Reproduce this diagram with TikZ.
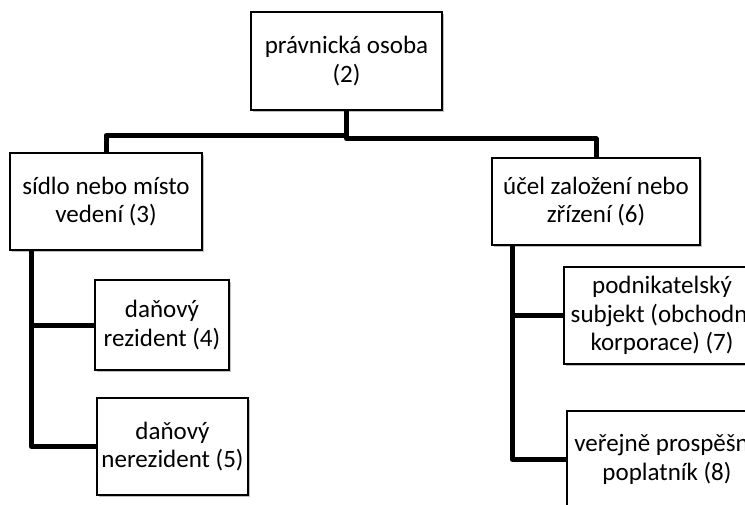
\documentclass[tikz,border=0pt]{standalone}
\usepackage{fontspec}
\setmainfont{Carlito}
\usepackage{tikz}
\usetikzlibrary{positioning, shadows}

\tikzset{
  box/.style={draw, line width=1.3pt, fill=white, align=center, inner sep=0pt,
    drop shadow={shadow xshift=1.5pt, shadow yshift=-1.5pt, opacity=0.25, fill=black}},
  conn/.style={line width=5pt, line join=round}
}

\begin{document}
\begin{tikzpicture}[x=1pt, y=-1pt, font=\fontsize{25}{28.5}\selectfont]
\useasboundingbox (0,0) rectangle (745,504);
\clip (0,0) rectangle (745,504);

\node[box, minimum width=191pt, minimum height=98pt] (osoba) at (346.5,61) {právnická osoba\\(2)};
\node[box, minimum width=192pt, minimum height=97pt] (sidlo) at (106,201.5) {sídlo nebo místo\\vedení (3)};
\node[box, minimum width=208pt, minimum height=87pt] (ucel) at (596,201.5) {účel založení nebo\\zřízení (6)};
\node[box, minimum width=134pt, minimum height=90pt] (rez) at (162,325) {daňový\\rezident (4)};
\node[box, minimum width=151pt, minimum height=97pt] (nerez) at (172.5,446.5) {daňový\\nerezident (5)};
\node[box, minimum width=196pt, minimum height=97pt] (podnik) at (662,315.5) {podnikatelský\\subjekt (obchodní\\korporace) (7)};
\node[box, minimum width=200pt, minimum height=97pt] (verej) at (667,459.5) {veřejně prospěšný\\poplatník (8)};

% connectors
\draw[conn] (osoba.south) -- ++(0,25) -| (sidlo.north);
\draw[conn] (osoba.south) -- ++(0,28) -| (ucel.north);
\draw[conn] ([xshift=22pt]sidlo.south west) |- (rez.west);
\draw[conn] ([xshift=22pt]sidlo.south west) |- (nerez.west);
\draw[conn] ([xshift=21pt]ucel.south west) |- (podnik.west);
\draw[conn] ([xshift=21pt]ucel.south west) |- (verej.west);
\end{tikzpicture}
\end{document}
